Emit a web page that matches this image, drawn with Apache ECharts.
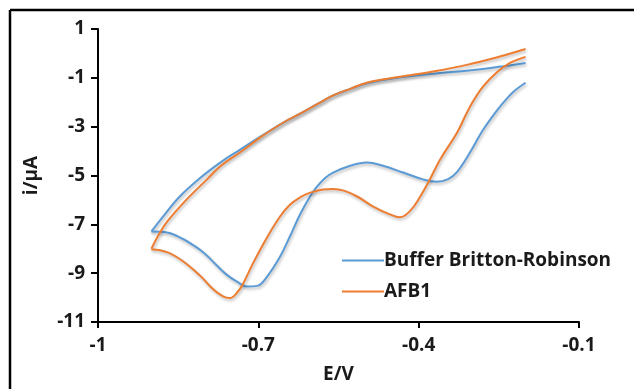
<!DOCTYPE html>
<html>
<head>
<meta charset="utf-8">
<script src="https://cdn.jsdelivr.net/npm/echarts@6/dist/echarts.min.js"></script>
<style>
html,body{margin:0;padding:0;background:#fff;}
#chart{width:634px;height:389px;}
</style>
</head>
<body>
<div id="chart"></div>
<script>
// ---- data (E in V, i in µA) ----
var seriesNames = ['Buffer Britton-Robinson', 'AFB1'];
var xTicks = [-1, -0.7, -0.4, -0.1];
var yTicks = [-11, -9, -7, -5, -3, -1, 1];

// Buffer: forward (upper) branch, right -> left
var bufferUpperE = [-0.2, -0.25, -0.31, -0.373, -0.435, -0.497, -0.528, -0.56, -0.59, -0.62, -0.654, -0.697, -0.734, -0.77, -0.809, -0.847, -0.878, -0.9];
var bufferUpperI = [-0.39, -0.55, -0.71, -0.83, -0.98, -1.22, -1.45, -1.72, -2.08, -2.45, -2.84, -3.42, -3.94, -4.45, -5.1, -5.86, -6.67, -7.29];
// Buffer: reverse (lower) branch, left -> right
var bufferLowerE = [-0.9, -0.871, -0.841, -0.822, -0.8, -0.777, -0.76, -0.74, -0.721, -0.702, -0.684, -0.66, -0.641, -0.622, -0.603, -0.59, -0.575, -0.56, -0.528, -0.497, -0.467, -0.429, -0.392, -0.366, -0.345, -0.328, -0.304, -0.28, -0.253, -0.235, -0.22, -0.2];
var bufferLowerI = [-7.29, -7.33, -7.6, -7.85, -8.2, -8.7, -9.05, -9.35, -9.55, -9.52, -9.15, -8.35, -7.5, -6.6, -5.85, -5.45, -5.1, -4.88, -4.6, -4.47, -4.6, -4.88, -5.16, -5.26, -5.15, -4.85, -4.06, -3.15, -2.32, -1.85, -1.52, -1.2];

// AFB1: forward (upper) branch, right -> left
var afbUpperE = [-0.2, -0.25, -0.31, -0.373, -0.435, -0.497, -0.528, -0.56, -0.59, -0.62, -0.654, -0.697, -0.734, -0.77, -0.796, -0.834, -0.871, -0.887, -0.9];
var afbUpperI = [0.18, -0.14, -0.47, -0.74, -0.96, -1.2, -1.45, -1.72, -2.08, -2.45, -2.84, -3.45, -4.05, -4.6, -5.16, -5.98, -6.9, -7.45, -8.0];
// AFB1: reverse (lower) branch, left -> right
var afbLowerE = [-0.9, -0.871, -0.841, -0.809, -0.785, -0.766, -0.753, -0.74, -0.729, -0.71, -0.684, -0.66, -0.641, -0.622, -0.603, -0.579, -0.56, -0.54, -0.515, -0.485, -0.454, -0.435, -0.416, -0.397, -0.379, -0.36, -0.328, -0.304, -0.28, -0.253, -0.229, -0.2];
var afbLowerI = [-8.02, -8.14, -8.51, -9.1, -9.65, -9.95, -10.02, -9.8, -9.45, -8.6, -7.55, -6.7, -6.2, -5.9, -5.7, -5.57, -5.55, -5.62, -5.86, -6.27, -6.59, -6.71, -6.45, -5.86, -5.16, -4.35, -3.24, -2.18, -1.37, -0.76, -0.39, -0.14];

function pairs(xs, ys) { return xs.map(function (x, k) { return [x, ys[k]]; }); }

var blue = '#5B9BD5', orange = '#ED7D31';
var font = '"Open Sans", "DejaVu Sans", sans-serif';
var textColor = '#1a1a1a';
var fs = 19;

function lineSeries(name, color, data) {
  return {
    type: 'line', name: name, data: data, smooth: 0.4,
    symbol: 'none', showSymbol: false, clip: false,
    lineStyle: { color: color, width: 2, shadowColor: 'rgba(0,0,0,0.28)', shadowBlur: 3, shadowOffsetX: 1, shadowOffsetY: 2 },
    itemStyle: { color: color },
    emphasis: { disabled: true }
  };
}

var chart = echarts.init(document.getElementById('chart'), null, { renderer: 'canvas' });
chart.setOption({
  animation: false,
  backgroundColor: '#ffffff',
  grid: { left: 98, right: 55, top: 29, bottom: 66, containLabel: false },
  legend: {
    data: seriesNames, orient: 'vertical', left: 337, top: 246,
    itemWidth: 42, itemHeight: 14, itemGap: 12,
    icon: 'path://M0,6 L42,6 L42,8 L0,8 Z',
    textStyle: { fontFamily: font, fontWeight: 'bold', fontSize: fs, color: textColor, padding: [0, 0, 0, -5] }
  },
  xAxis: {
    type: 'value', min: -1, max: -0.1,
    name: 'E/V', nameLocation: 'middle', nameGap: 43,
    nameTextStyle: { fontFamily: font, fontWeight: 'bold', fontSize: fs, color: textColor },
    axisLine: { show: true, onZero: false, lineStyle: { color: '#000', width: 2 } },
    axisTick: { show: true, inside: false, length: 6, customValues: xTicks, lineStyle: { color: '#000', width: 2 } },
    axisLabel: { customValues: xTicks, margin: 14, fontFamily: font, fontWeight: 'bold', fontSize: fs, color: textColor,
      formatter: function (v) { return String(Math.round(v * 10) / 10); } },
    splitLine: { show: false }
  },
  yAxis: {
    type: 'value', min: -11, max: 1,
    name: 'i/μA', nameLocation: 'middle', nameGap: 57, nameRotate: 90,
    nameTextStyle: { fontFamily: font, fontWeight: 'bold', fontSize: fs, color: textColor },
    axisLine: { show: true, onZero: false, lineStyle: { color: '#000', width: 2 } },
    axisTick: { show: true, inside: false, length: 7, customValues: yTicks, lineStyle: { color: '#000', width: 2 } },
    axisLabel: { customValues: yTicks, margin: 13, fontFamily: font, fontWeight: 'bold', fontSize: fs, color: textColor },
    splitLine: { show: false }
  },
  series: [
    lineSeries(seriesNames[0], blue, pairs(bufferUpperE, bufferUpperI)),
    lineSeries(seriesNames[0], blue, pairs(bufferLowerE, bufferLowerI)),
    lineSeries(seriesNames[1], orange, pairs(afbUpperE, afbUpperI)),
    lineSeries(seriesNames[1], orange, pairs(afbLowerE, afbLowerI))
  ],
  graphic: [
    { type: 'line', shape: { x1: 10, y1: 10, x2: 640, y2: 10 }, style: { stroke: '#000', lineWidth: 2.5 }, silent: true },
    { type: 'line', shape: { x1: 10, y1: 10, x2: 10, y2: 400 }, style: { stroke: '#000', lineWidth: 2.5 }, silent: true }
  ]
});
</script>
</body>
</html>
